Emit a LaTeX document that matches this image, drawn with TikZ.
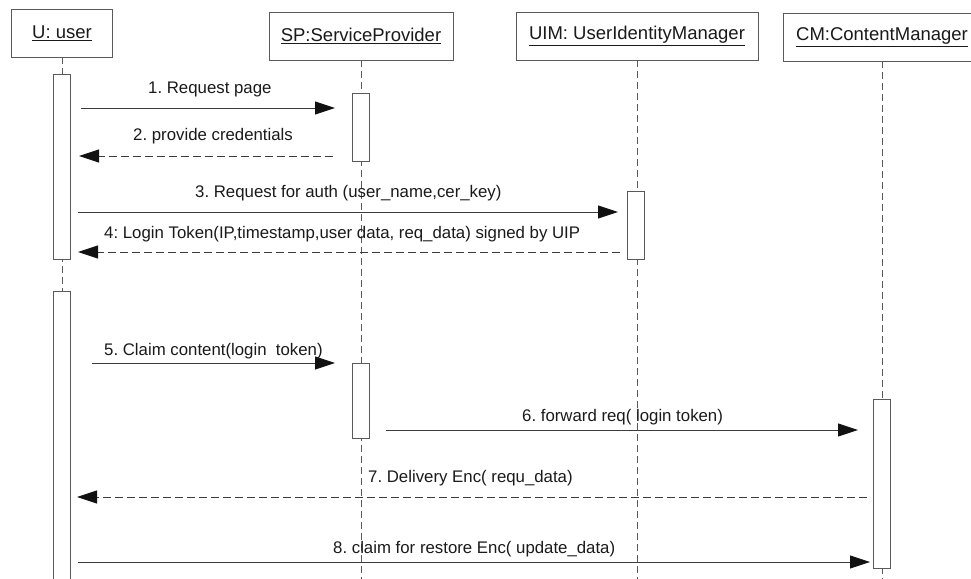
\documentclass[tikz,border=0pt]{standalone}
\usepackage{fontspec}
\setmainfont{Liberation Sans}
\usetikzlibrary{arrows.meta}
\definecolor{linegray}{HTML}{5A5A5A}
\definecolor{msggray}{HTML}{3C3C3C}
\definecolor{textcol}{HTML}{1A1A1A}
\definecolor{tipcol}{HTML}{111111}
\frenchspacing
\begin{document}
\begin{tikzpicture}[x=1pt,y=-1pt,
  obj/.style={draw=linegray, line width=0.9pt, fill=white, minimum height=48pt,
    inner sep=0pt, text=textcol, font=\fontsize{18.5}{22}\selectfont},
  life/.style={draw=linegray, line width=0.9pt, dash pattern=on 7pt off 4pt},
  act/.style={draw=linegray, line width=0.9pt, fill=white, minimum width=17pt, inner sep=0pt},
  msg/.style={draw=msggray, line width=0.9pt,
    -{Triangle[length=20pt,width=13pt,color=tipcol]}},
  reply/.style={msg, dash pattern=on 8pt off 4pt},
  lbl/.style={font=\fontsize{16.8}{20}\selectfont, inner sep=0pt, text=textcol, anchor=base west}]

\clip (0,0) rectangle (971,578);

% objects
\node[obj, minimum width=101pt] (U)   at (62,33)  {\underline{U: user}};
\node[obj, minimum width=184pt] (SP)  at (361,36) {\underline{SP:ServiceProvider}};
\node[obj, minimum width=242pt] (UIM) at (637,36) {\underline{UIM: UserIdentityManager}};
\node[obj, minimum width=198pt] (CM)  at (882,37) {\underline{CM:ContentManager}};

% lifeline ends
\coordinate (Uend)   at (62,590);
\coordinate (SPend)  at (361,590);
\coordinate (UIMend) at (637,590);
\coordinate (CMend)  at (882,590);

\draw[life] (U.south)   -- (Uend);
\draw[life] (SP.south)  -- (SPend);
\draw[life] (UIM.south) -- (UIMend);
\draw[life] (CM.south)  -- (CMend);

% activations
\node[act, minimum height=185pt] (Ua1)  at (62,166.5)  {};
\node[act, minimum height=299pt] (Ua2)  at (62,440.5)  {};
\node[act, minimum height=68pt]  (SPa1) at (361,127)   {};
\node[act, minimum height=75pt]  (SPa2) at (361,400.5) {};
\node[act, minimum height=68pt]  (UIMa) at (636,225)   {};
\node[act, minimum height=169pt] (CMa)  at (882,483.5) {};

% message end points
\coordinate (m1a) at (81,108);  \coordinate (m1b) at (335,108);
\coordinate (m2a) at (333,156); \coordinate (m2b) at (79,156);
\coordinate (m3a) at (78,212);  \coordinate (m3b) at (618,212);
\coordinate (m4a) at (620,252); \coordinate (m4b) at (78,252);
\coordinate (m5a) at (92,363);  \coordinate (m5b) at (335,363);
\coordinate (m6a) at (386,430); \coordinate (m6b) at (858,430);
\coordinate (m7a) at (867,497); \coordinate (m7b) at (77,497);
\coordinate (m8a) at (78,562);  \coordinate (m8b) at (870,562);

\draw[msg]   (m1a) -- (m1b);
\draw[reply] (m2a) -- (m2b);
\draw[msg]   (m3a) -- (m3b);
\draw[reply] (m4a) -- (m4b);
\draw[msg]   (m5a) -- (m5b);
\draw[msg]   (m6a) -- (m6b);
\draw[reply] (m7a) -- (m7b);
\draw[msg]   (m8a) -- (m8b);

% message labels
\node[lbl] (l1) at (148,93)  {1. Request page};
\node[lbl] (l2) at (133,140) {2. provide credentials};
\node[lbl] (l3) at (195,197) {3. Request for auth (user\_name,cer\_key)};
\node[lbl] (l4) at (104,238) {4: Login Token(IP,timestamp,user data, req\_data) signed by UIP};
\node[lbl] (l5) at (104,355) {5. Claim content(login\ \ token)};
\node[lbl] (l6) at (522,421) {6. forward req( login token)};
\node[lbl] (l7) at (368,482) {7. Delivery Enc( requ\_data)};
\node[lbl] (l8) at (333,553) {8. claim for restore Enc( update\_data)};
\end{tikzpicture}
\end{document}
